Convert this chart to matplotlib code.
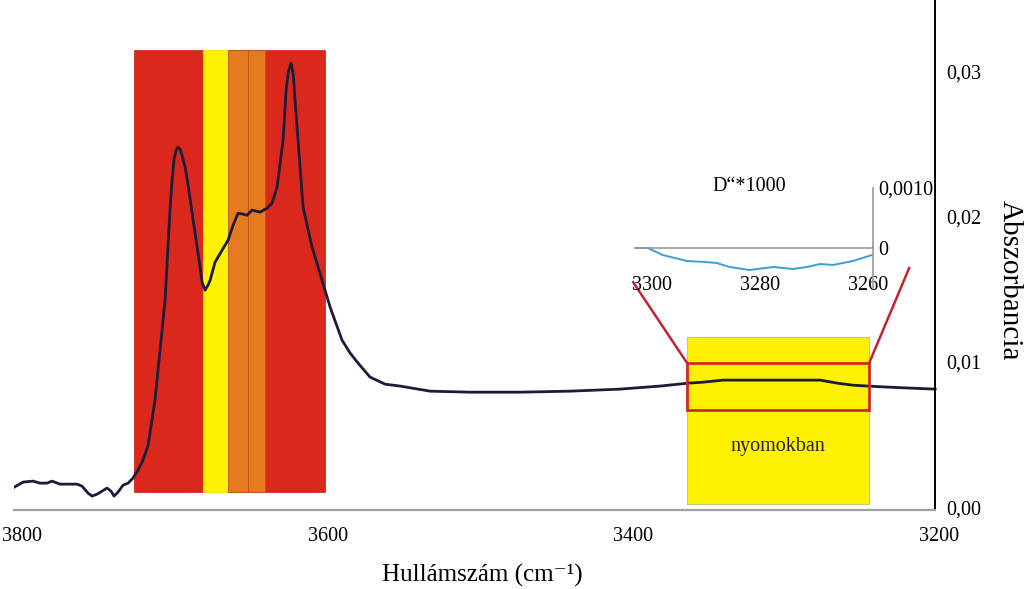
import numpy as np
import matplotlib.pyplot as plt
from matplotlib.patches import Rectangle

plt.rcParams['font.family'] = ['Liberation Serif', 'DejaVu Serif']

# main spectrum
wavenumber = [3805, 3799.3, 3792.8, 3788.2, 3783.6, 3780.4, 3775.1, 3764.0, 3760.7,
	3756.8, 3754.2, 3750.9, 3747.6, 3744.4, 3741.8, 3739.8, 3737.2, 3733.9,
	3730.6, 3727.4, 3724.1, 3720.8, 3717.5, 3713.0, 3709.7, 3706.4, 3703.1,
	3701.8, 3700.5, 3699.2, 3697.9, 3696.6, 3695.3, 3693.3, 3691.4, 3688.7,
	3683.5, 3682.2, 3680.2, 3678.3, 3676.9, 3673.7,
	3669.1, 3665.2, 3661.9, 3658.6, 3655.4, 3652.7, 3649.5, 3646.9, 3644.2,
	3639.7, 3636.4, 3633.1, 3629.2, 3627.2, 3625.9, 3624.0, 3622.6, 3621.3, 3619.4, 3616.1,
	3610.2, 3603.7, 3598.4, 3590.6, 3585.3, 3580.1, 3572.3, 3562.4, 3552.6,
	3533.0, 3506.8, 3474.1, 3441.4, 3408.6, 3382.5, 3364.1, 3354.3, 3341.2,
	3303.9, 3277.7, 3266.6, 3256.2, 3246.3, 3233.9, 3218.8, 3202.5]
absorbance = [0.00138, 0.00172, 0.00179, 0.00165, 0.00165, 0.00179, 0.00158, 0.00158, 0.00144,
	0.00096, 0.00076, 0.00089, 0.00110, 0.00131, 0.00110, 0.00076, 0.00103, 0.00151,
	0.00165, 0.00200, 0.00255, 0.00323, 0.00427, 0.00736, 0.01080, 0.01424, 0.02064,
	0.02250, 0.02395, 0.02456, 0.02477, 0.02465, 0.02420, 0.02340, 0.02220, 0.02023,
	0.01651, 0.01548, 0.01493, 0.01528, 0.01562, 0.01686,
	0.01768, 0.01837, 0.01940, 0.02023, 0.02016, 0.02009, 0.02044, 0.02037, 0.02030,
	0.02057, 0.02092, 0.02202, 0.02525, 0.02869, 0.02986, 0.03055, 0.02986, 0.02790, 0.02525, 0.02064,
	0.01789, 0.01562, 0.01376, 0.01149, 0.01060, 0.00991, 0.00895, 0.00846, 0.00833,
	0.00798, 0.00791, 0.00791, 0.00798, 0.00812, 0.00833, 0.00853, 0.00860, 0.00874,
	0.00874, 0.00874, 0.00853, 0.00839, 0.00833, 0.00826, 0.00819, 0.00812]

# coloured bands (wavenumber from, to)
band_edges = [(3726.7, 3601.7), (3681.7, 3665.0), (3665.0, 3652.3), (3652.3, 3641.0)]
band_colors = ['#DA281D', '#FFF200', '#E67A1E', '#E67A1E']
band_y = (0.00103, 0.03145)

# trace region box and zoom frame
trace_x = (3364.8, 3245.7)
trace_y = (0.0002, 0.0117)
frame_y = (0.00667, 0.00991)
connector_ends = [(3400.1, 0.01548), (3219.5, 0.01645)]

# inset: second derivative * 1000
inset_wn = [3303.1, 3300.7, 3298.0, 3293.5, 3290.2, 3288.0, 3285.6, 3281.9,
	3277.6, 3273.9, 3271.3, 3268.9, 3266.5, 3262.8, 3259.3]
inset_d2 = [0, 0, -0.000117, -0.000217, -0.000233, -0.00025, -0.000317, -0.000367,
	-0.000317, -0.00035, -0.000317, -0.000267, -0.000283, -0.000217, -0.000117]

x_ticks = [3800, 3600, 3400, 3200]
y_ticks = [0, 0.01, 0.02, 0.03]
y_labels = ['0,00', '0,01', '0,02', '0,03']
inset_xticks = [3300, 3280, 3260]
inset_yticks = [0, 0.001]
inset_ylabels = ['0', '0,0010']

fig = plt.figure(figsize=(10.24, 5.89), dpi=100)
ax = fig.add_axes([0.01406, 0.1341, 0.9029, 0.8659])

# bands
y0, y1 = band_y
for (a, b), c in zip(band_edges, band_colors):
	ax.add_patch(Rectangle((b, y0), a - b, y1 - y0, facecolor=c,
		edgecolor='#B8561A' if c == '#E67A1E' else c, lw=0.6, zorder=1))

# trace box + frame
ax.add_patch(Rectangle((trace_x[1], trace_y[0]), trace_x[0] - trace_x[1],
	trace_y[1] - trace_y[0], facecolor='#FFF200', edgecolor='#CFC56A', lw=0.8, zorder=1))
ax.add_patch(Rectangle((trace_x[1], frame_y[0]), trace_x[0] - trace_x[1],
	frame_y[1] - frame_y[0], facecolor='none', edgecolor='#D0282A', lw=2, zorder=3))
ax.plot([connector_ends[0][0], trace_x[0]], [connector_ends[0][1], frame_y[1]],
	color='#C0272D', lw=1.8, zorder=3)
ax.plot([connector_ends[1][0], trace_x[1]], [connector_ends[1][1], frame_y[1]],
	color='#C0272D', lw=1.8, zorder=3)
ax.text(np.mean(trace_x), 0.0042, 'nyomokban', ha='center', va='center', fontsize=14.5, color='#222222')

ax.plot(wavenumber, absorbance, color='#1C1B3A', lw=2, zorder=2)

ax.set_xlim(3805, 3200)
ax.set_ylim(-0.0002, 0.0349)
ax.set_facecolor('none')
ax.spines['top'].set_visible(False)
ax.spines['left'].set_visible(False)
ax.spines['bottom'].set_color('#A0A0A0')
ax.spines['bottom'].set_linewidth(1.6)
ax.spines['bottom'].set_bounds(3805, 3202.5)
ax.spines['right'].set_position(('data', 3202.5))
ax.spines['right'].set_color('black')
ax.spines['right'].set_linewidth(1.4)
ax.yaxis.tick_right()
ax.set_xticks(x_ticks)
ax.set_xticklabels([str(t) for t in x_ticks])
ax.set_yticks(y_ticks)
ax.set_yticklabels(y_labels)
ax.tick_params(axis='x', length=0, pad=12, labelsize=14.5)
ax.tick_params(axis='y', length=0, pad=8, labelsize=14.5)

fig.text(482 / 1024, 1 - 575 / 589, 'Hullámszám (cm\u207b\u00b9)', ha='center', va='center', fontsize=18)
fig.text(1010 / 1024, 1 - 280 / 589, 'Abszorbancia', ha='center', va='center', rotation=-90, fontsize=21)

# inset
ins = fig.add_axes([635 / 1024, 1 - 288 / 589, 238 / 1024, 100 / 589])
ins.set_facecolor('none')
ins.plot(inset_wn, inset_d2, color='#3AA0D2', lw=1.4)
ins.set_xlim(3303.1, 3259.1)
ins.set_ylim(-0.000667, 0.001)
ins.spines['top'].set_visible(False)
ins.spines['left'].set_visible(False)
ins.spines['bottom'].set_position(('data', 0))
for s in ['bottom', 'right']:
	ins.spines[s].set_color('#999999')
	ins.spines[s].set_linewidth(1.2)
ins.yaxis.tick_right()
ins.set_xticks(inset_xticks)
ins.set_xticklabels([str(t) for t in inset_xticks])
ins.set_yticks(inset_yticks)
ins.set_yticklabels(inset_ylabels)
ins.tick_params(axis='x', length=0, pad=20, labelsize=14.5)
ins.tick_params(axis='y', length=0, pad=4, labelsize=14.5)
ins.text(3282, 0.00103, 'D\u201c*1000', ha='center', va='center', fontsize=14.5)

fig.savefig('out.png', dpi=100)
